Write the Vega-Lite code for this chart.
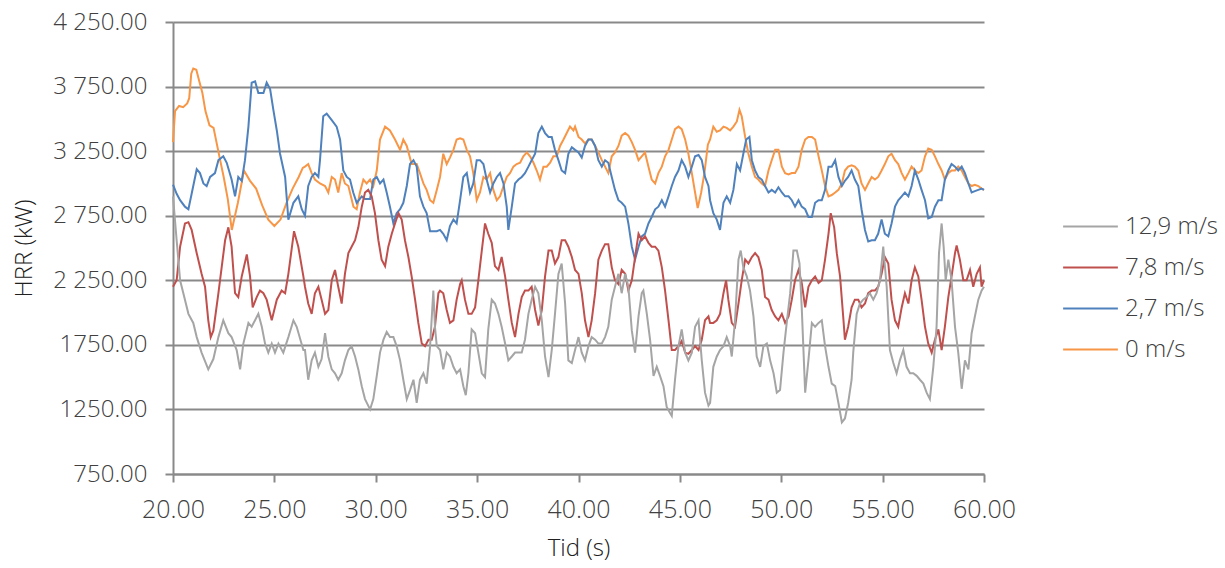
{
"$schema":"https://vega.github.io/schema/vega-lite/v6.json",
"width":811,"height":452,
"autosize":{"type":"none"},
"padding":{"left":173,"top":22,"right":241,"bottom":94},
"background":"white",
"config":{"view":{"stroke":null},"font":"Open Sans"},
"data":{"values":[
{"s":"o","t":20.0,"v":3320},{"s":"o","t":20.1,"v":3560},{"s":"o","t":20.3,"v":3600},{"s":"o","t":20.5,"v":3590},{"s":"o","t":20.7,"v":3620},{"s":"o","t":20.8,"v":3660},{"s":"o","t":20.9,"v":3850},{"s":"o","t":21.0,"v":3890},{"s":"o","t":21.15,"v":3880},{"s":"o","t":21.3,"v":3790},{"s":"o","t":21.45,"v":3700},{"s":"o","t":21.6,"v":3560},{"s":"o","t":21.8,"v":3450},{"s":"o","t":22.0,"v":3430},{"s":"o","t":22.3,"v":3200},{"s":"o","t":22.5,"v":3050},{"s":"o","t":22.7,"v":2880},{"s":"o","t":22.9,"v":2640},{"s":"o","t":23.2,"v":2850},{"s":"o","t":23.5,"v":3100},{"s":"o","t":23.8,"v":3020},{"s":"o","t":24.1,"v":2960},{"s":"o","t":24.4,"v":2830},{"s":"o","t":24.7,"v":2720},{"s":"o","t":25.0,"v":2670},{"s":"o","t":25.3,"v":2720},{"s":"o","t":25.6,"v":2850},{"s":"o","t":25.9,"v":2960},{"s":"o","t":26.2,"v":3050},{"s":"o","t":26.4,"v":3120},
{"s":"o","t":26.51,"v":3130},{"s":"o","t":26.67,"v":3150},{"s":"o","t":26.84,"v":3080},{"s":"o","t":27.0,"v":3030},{"s":"o","t":27.25,"v":3000},{"s":"o","t":27.5,"v":2980},{"s":"o","t":27.66,"v":2930},{"s":"o","t":27.83,"v":3050},{"s":"o","t":27.99,"v":3030},{"s":"o","t":28.15,"v":2930},{"s":"o","t":28.32,"v":3080},{"s":"o","t":28.48,"v":3000},{"s":"o","t":28.65,"v":2980},{"s":"o","t":28.9,"v":2820},{"s":"o","t":29.06,"v":2800},{"s":"o","t":29.22,"v":2930},{"s":"o","t":29.39,"v":3030},{"s":"o","t":29.55,"v":3000},{"s":"o","t":29.72,"v":3030},{"s":"o","t":29.88,"v":2980},{"s":"o","t":30.05,"v":3100},{"s":"o","t":30.21,"v":3340},{"s":"o","t":30.46,"v":3440},{"s":"o","t":30.7,"v":3410},{"s":"o","t":30.95,"v":3340},{"s":"o","t":31.2,"v":3260},{"s":"o","t":31.36,"v":3340},{"s":"o","t":31.53,"v":3290},{"s":"o","t":31.77,"v":3150},{"s":"o","t":32.02,"v":3150},{"s":"o","t":32.18,"v":3080},{"s":"o","t":32.35,"v":3000},{"s":"o","t":32.51,"v":2950},{"s":"o","t":32.68,"v":2870},{"s":"o","t":32.84,"v":2850},{"s":"o","t":33.01,"v":2950},
{"s":"o","t":33.17,"v":3050},{"s":"o","t":33.33,"v":3230},{"s":"o","t":33.5,"v":3150},{"s":"o","t":33.66,"v":3200},{"s":"o","t":33.83,"v":3260},{"s":"o","t":33.99,"v":3340},{"s":"o","t":34.16,"v":3350},{"s":"o","t":34.32,"v":3340},{"s":"o","t":34.49,"v":3260},{"s":"o","t":34.65,"v":3210},{"s":"o","t":34.81,"v":3080},{"s":"o","t":34.98,"v":2870},{"s":"o","t":35.14,"v":2930},{"s":"o","t":35.31,"v":3050},{"s":"o","t":35.47,"v":3030},{"s":"o","t":35.64,"v":3080},{"s":"o","t":35.8,"v":2950},{"s":"o","t":35.97,"v":2870},{"s":"o","t":36.13,"v":2900},{"s":"o","t":36.3,"v":2980},{"s":"o","t":36.46,"v":3050},{"s":"o","t":36.62,"v":3080},{"s":"o","t":36.79,"v":3130},{"s":"o","t":36.95,"v":3150},{"s":"o","t":37.12,"v":3160},{"s":"o","t":37.28,"v":3210},{"s":"o","t":37.45,"v":3240},{"s":"o","t":37.61,"v":3210},{"s":"o","t":37.78,"v":3160},{"s":"o","t":37.94,"v":3100},{"s":"o","t":38.1,"v":3030},{"s":"o","t":38.27,"v":3130},{"s":"o","t":38.43,"v":3130},{"s":"o","t":38.6,"v":3160},{"s":"o","t":38.76,"v":3210},{"s":"o","t":38.93,"v":3210},{"s":"o","t":39.09,"v":3290},{"s":"o","t":39.26,"v":3340},{"s":"o","t":39.42,"v":3390},{"s":"o","t":39.58,"v":3440},{"s":"o","t":39.75,"v":3410},
{"s":"o","t":39.83,"v":3440},{"s":"o","t":40.0,"v":3360},{"s":"o","t":40.16,"v":3340},{"s":"o","t":40.32,"v":3310},{"s":"o","t":40.49,"v":3340},{"s":"o","t":40.65,"v":3340},{"s":"o","t":40.82,"v":3290},{"s":"o","t":40.98,"v":3240},{"s":"o","t":41.15,"v":3180},{"s":"o","t":41.31,"v":3130},{"s":"o","t":41.47,"v":3080},{"s":"o","t":41.64,"v":3210},{"s":"o","t":41.8,"v":3240},{"s":"o","t":41.97,"v":3290},{"s":"o","t":42.13,"v":3370},{"s":"o","t":42.3,"v":3390},{"s":"o","t":42.46,"v":3370},{"s":"o","t":42.63,"v":3320},{"s":"o","t":42.79,"v":3260},{"s":"o","t":42.96,"v":3180},{"s":"o","t":43.12,"v":3210},{"s":"o","t":43.28,"v":3240},{"s":"o","t":43.45,"v":3130},{"s":"o","t":43.61,"v":3030},{"s":"o","t":43.78,"v":3000},{"s":"o","t":43.94,"v":3080},{"s":"o","t":44.11,"v":3130},{"s":"o","t":44.27,"v":3210},{"s":"o","t":44.44,"v":3260},{"s":"o","t":44.6,"v":3340},{"s":"o","t":44.76,"v":3420},{"s":"o","t":44.93,"v":3440},{"s":"o","t":45.09,"v":3420},{"s":"o","t":45.26,"v":3340},{"s":"o","t":45.42,"v":3230},{"s":"o","t":45.59,"v":3080},{"s":"o","t":45.75,"v":2930},{"s":"o","t":45.88,"v":2810},{"s":"o","t":46.05,"v":2930},{"s":"o","t":46.21,"v":3080},{"s":"o","t":46.38,"v":3300},
{"s":"o","t":46.49,"v":3340},{"s":"o","t":46.65,"v":3440},{"s":"o","t":46.82,"v":3400},{"s":"o","t":46.98,"v":3410},{"s":"o","t":47.15,"v":3440},{"s":"o","t":47.31,"v":3430},{"s":"o","t":47.48,"v":3410},{"s":"o","t":47.64,"v":3440},{"s":"o","t":47.81,"v":3480},{"s":"o","t":47.94,"v":3570},{"s":"o","t":48.05,"v":3520},{"s":"o","t":48.22,"v":3360},{"s":"o","t":48.38,"v":3230},{"s":"o","t":48.55,"v":3130},{"s":"o","t":48.71,"v":3050},{"s":"o","t":48.87,"v":3030},{"s":"o","t":49.04,"v":3000},{"s":"o","t":49.2,"v":2980},{"s":"o","t":49.37,"v":3100},{"s":"o","t":49.53,"v":3180},{"s":"o","t":49.7,"v":3260},{"s":"o","t":49.86,"v":3260},{"s":"o","t":50.03,"v":3130},{"s":"o","t":50.19,"v":3080},{"s":"o","t":50.36,"v":3070},{"s":"o","t":50.52,"v":3080},{"s":"o","t":50.68,"v":3080},{"s":"o","t":50.85,"v":3130},{"s":"o","t":51.01,"v":3260},{"s":"o","t":51.18,"v":3340},{"s":"o","t":51.34,"v":3360},{"s":"o","t":51.51,"v":3360},{"s":"o","t":51.67,"v":3340},{"s":"o","t":51.84,"v":3210},{"s":"o","t":52.0,"v":3100},{"s":"o","t":52.16,"v":2980},{"s":"o","t":52.33,"v":2900},{"s":"o","t":52.49,"v":2910},{"s":"o","t":52.66,"v":2930},{"s":"o","t":52.82,"v":2950},{"s":"o","t":52.99,"v":3000},
{"s":"o","t":53.14,"v":3100},{"s":"o","t":53.3,"v":3130},{"s":"o","t":53.47,"v":3140},{"s":"o","t":53.63,"v":3130},{"s":"o","t":53.8,"v":3100},{"s":"o","t":53.96,"v":3000},{"s":"o","t":54.13,"v":2950},{"s":"o","t":54.29,"v":3000},{"s":"o","t":54.46,"v":3050},{"s":"o","t":54.62,"v":3030},{"s":"o","t":54.78,"v":3050},{"s":"o","t":54.95,"v":3100},{"s":"o","t":55.11,"v":3150},{"s":"o","t":55.28,"v":3210},{"s":"o","t":55.44,"v":3230},{"s":"o","t":55.61,"v":3180},{"s":"o","t":55.77,"v":3150},{"s":"o","t":55.94,"v":3080},{"s":"o","t":56.1,"v":3030},{"s":"o","t":56.27,"v":3080},{"s":"o","t":56.43,"v":3130},{"s":"o","t":56.59,"v":3100},{"s":"o","t":56.76,"v":3080},{"s":"o","t":56.92,"v":3100},{"s":"o","t":57.09,"v":3210},{"s":"o","t":57.25,"v":3270},{"s":"o","t":57.42,"v":3260},{"s":"o","t":57.58,"v":3210},{"s":"o","t":57.75,"v":3150},{"s":"o","t":57.91,"v":3100},{"s":"o","t":58.07,"v":3030},{"s":"o","t":58.24,"v":3080},{"s":"o","t":58.4,"v":3100},{"s":"o","t":58.57,"v":3100},{"s":"o","t":58.73,"v":3130},{"s":"o","t":58.9,"v":3100},{"s":"o","t":59.06,"v":3050},{"s":"o","t":59.23,"v":3000},{"s":"o","t":59.39,"v":2980},{"s":"o","t":59.55,"v":2990},{"s":"o","t":59.72,"v":2980},{"s":"o","t":59.88,"v":2960},{"s":"o","t":60.0,"v":2950},

{"s":"b","t":20.0,"v":2990},{"s":"b","t":20.18,"v":2920},{"s":"b","t":20.35,"v":2870},{"s":"b","t":20.59,"v":2820},{"s":"b","t":20.76,"v":2800},{"s":"b","t":20.92,"v":2920},{"s":"b","t":21.17,"v":3110},{"s":"b","t":21.33,"v":3080},{"s":"b","t":21.5,"v":3000},{"s":"b","t":21.66,"v":2980},{"s":"b","t":21.83,"v":3050},{"s":"b","t":22.07,"v":3080},{"s":"b","t":22.24,"v":3180},{"s":"b","t":22.48,"v":3210},{"s":"b","t":22.65,"v":3160},{"s":"b","t":22.89,"v":3030},{"s":"b","t":23.06,"v":2900},{"s":"b","t":23.22,"v":3050},{"s":"b","t":23.39,"v":3020},{"s":"b","t":23.55,"v":3180},{"s":"b","t":23.72,"v":3440},{"s":"b","t":23.88,"v":3780},{"s":"b","t":24.05,"v":3790},{"s":"b","t":24.21,"v":3700},{"s":"b","t":24.46,"v":3700},{"s":"b","t":24.62,"v":3780},{"s":"b","t":24.79,"v":3730},{"s":"b","t":24.95,"v":3570},{"s":"b","t":25.12,"v":3410},{"s":"b","t":25.28,"v":3230},{"s":"b","t":25.53,"v":3050},{"s":"b","t":25.69,"v":2720},{"s":"b","t":25.94,"v":2850},{"s":"b","t":26.18,"v":2900},{"s":"b","t":26.35,"v":2800},
{"s":"b","t":26.51,"v":2750},{"s":"b","t":26.67,"v":2980},{"s":"b","t":26.84,"v":3050},{"s":"b","t":27.0,"v":3080},{"s":"b","t":27.17,"v":3050},{"s":"b","t":27.25,"v":3180},{"s":"b","t":27.41,"v":3520},{"s":"b","t":27.58,"v":3540},{"s":"b","t":27.83,"v":3490},{"s":"b","t":28.07,"v":3440},{"s":"b","t":28.24,"v":3340},{"s":"b","t":28.4,"v":3100},{"s":"b","t":28.57,"v":3050},{"s":"b","t":28.73,"v":3030},{"s":"b","t":28.89,"v":2930},{"s":"b","t":29.06,"v":2850},{"s":"b","t":29.31,"v":2900},{"s":"b","t":29.47,"v":2880},{"s":"b","t":29.72,"v":2880},{"s":"b","t":29.88,"v":3030},{"s":"b","t":30.05,"v":3050},{"s":"b","t":30.21,"v":3000},{"s":"b","t":30.38,"v":3030},{"s":"b","t":30.54,"v":2930},{"s":"b","t":30.7,"v":2820},{"s":"b","t":30.87,"v":2690},{"s":"b","t":31.03,"v":2770},{"s":"b","t":31.2,"v":2800},{"s":"b","t":31.36,"v":2850},{"s":"b","t":31.53,"v":2980},{"s":"b","t":31.69,"v":3150},{"s":"b","t":31.86,"v":3180},{"s":"b","t":32.02,"v":3130},{"s":"b","t":32.18,"v":2900},{"s":"b","t":32.35,"v":2820},{"s":"b","t":32.51,"v":2770},{"s":"b","t":32.68,"v":2630},{"s":"b","t":33.01,"v":2630},
{"s":"b","t":33.17,"v":2640},{"s":"b","t":33.33,"v":2610},{"s":"b","t":33.5,"v":2560},{"s":"b","t":33.66,"v":2670},{"s":"b","t":33.83,"v":2720},{"s":"b","t":33.99,"v":2690},{"s":"b","t":34.16,"v":2870},{"s":"b","t":34.32,"v":3050},{"s":"b","t":34.49,"v":3080},{"s":"b","t":34.65,"v":2930},{"s":"b","t":34.81,"v":3000},{"s":"b","t":34.98,"v":3180},{"s":"b","t":35.14,"v":3180},{"s":"b","t":35.31,"v":3150},{"s":"b","t":35.47,"v":3030},{"s":"b","t":35.64,"v":2930},{"s":"b","t":35.8,"v":3000},{"s":"b","t":35.97,"v":3050},{"s":"b","t":36.13,"v":3080},{"s":"b","t":36.3,"v":3000},{"s":"b","t":36.46,"v":2820},{"s":"b","t":36.54,"v":2640},{"s":"b","t":36.71,"v":2820},{"s":"b","t":36.87,"v":3000},{"s":"b","t":37.04,"v":3030},{"s":"b","t":37.2,"v":3050},{"s":"b","t":37.36,"v":3080},{"s":"b","t":37.53,"v":3130},{"s":"b","t":37.69,"v":3180},{"s":"b","t":37.86,"v":3230},{"s":"b","t":38.02,"v":3390},{"s":"b","t":38.19,"v":3440},{"s":"b","t":38.35,"v":3390},{"s":"b","t":38.52,"v":3360},{"s":"b","t":38.68,"v":3360},{"s":"b","t":38.84,"v":3260},{"s":"b","t":39.01,"v":3180},{"s":"b","t":39.17,"v":3100},{"s":"b","t":39.34,"v":3080},{"s":"b","t":39.5,"v":3230},{"s":"b","t":39.67,"v":3280},
{"s":"b","t":39.83,"v":3260},{"s":"b","t":40.0,"v":3240},{"s":"b","t":40.16,"v":3200},{"s":"b","t":40.32,"v":3290},{"s":"b","t":40.49,"v":3340},{"s":"b","t":40.65,"v":3340},{"s":"b","t":40.82,"v":3290},{"s":"b","t":40.98,"v":3180},{"s":"b","t":41.15,"v":3130},{"s":"b","t":41.31,"v":3180},{"s":"b","t":41.47,"v":3160},{"s":"b","t":41.64,"v":3050},{"s":"b","t":41.8,"v":2950},{"s":"b","t":41.97,"v":2870},{"s":"b","t":42.13,"v":2850},{"s":"b","t":42.3,"v":2820},{"s":"b","t":42.46,"v":2690},{"s":"b","t":42.63,"v":2510},{"s":"b","t":42.79,"v":2410},{"s":"b","t":42.96,"v":2510},{"s":"b","t":43.12,"v":2590},{"s":"b","t":43.28,"v":2610},{"s":"b","t":43.45,"v":2690},{"s":"b","t":43.61,"v":2740},{"s":"b","t":43.78,"v":2800},{"s":"b","t":43.94,"v":2820},{"s":"b","t":44.11,"v":2870},{"s":"b","t":44.27,"v":2820},{"s":"b","t":44.44,"v":2900},{"s":"b","t":44.6,"v":2980},{"s":"b","t":44.76,"v":3050},{"s":"b","t":44.93,"v":3100},{"s":"b","t":45.09,"v":3180},{"s":"b","t":45.26,"v":3130},{"s":"b","t":45.42,"v":3050},{"s":"b","t":45.59,"v":3130},{"s":"b","t":45.75,"v":3210},{"s":"b","t":45.92,"v":3220},{"s":"b","t":46.08,"v":3180},{"s":"b","t":46.24,"v":3050},{"s":"b","t":46.41,"v":2980},
{"s":"b","t":46.49,"v":2870},{"s":"b","t":46.65,"v":2770},{"s":"b","t":46.82,"v":2720},{"s":"b","t":46.98,"v":2640},{"s":"b","t":47.15,"v":2850},{"s":"b","t":47.31,"v":2900},{"s":"b","t":47.48,"v":2850},{"s":"b","t":47.64,"v":2950},{"s":"b","t":47.81,"v":3150},{"s":"b","t":47.97,"v":3100},{"s":"b","t":48.13,"v":3230},{"s":"b","t":48.27,"v":3340},{"s":"b","t":48.43,"v":3360},{"s":"b","t":48.55,"v":3180},{"s":"b","t":48.71,"v":3100},{"s":"b","t":48.87,"v":3050},{"s":"b","t":49.04,"v":3030},{"s":"b","t":49.2,"v":2980},{"s":"b","t":49.37,"v":2930},{"s":"b","t":49.53,"v":2950},{"s":"b","t":49.7,"v":2930},{"s":"b","t":49.86,"v":2970},{"s":"b","t":50.03,"v":2930},{"s":"b","t":50.19,"v":2900},{"s":"b","t":50.36,"v":2900},{"s":"b","t":50.52,"v":2870},{"s":"b","t":50.68,"v":2820},{"s":"b","t":50.85,"v":2870},{"s":"b","t":51.01,"v":2820},{"s":"b","t":51.18,"v":2800},{"s":"b","t":51.34,"v":2740},{"s":"b","t":51.51,"v":2740},{"s":"b","t":51.67,"v":2850},{"s":"b","t":51.84,"v":2870},{"s":"b","t":52.0,"v":2870},{"s":"b","t":52.16,"v":2950},{"s":"b","t":52.33,"v":3130},{"s":"b","t":52.49,"v":3130},{"s":"b","t":52.66,"v":3180},{"s":"b","t":52.82,"v":3050},{"s":"b","t":52.99,"v":2980},
{"s":"b","t":53.14,"v":3020},{"s":"b","t":53.3,"v":3050},{"s":"b","t":53.47,"v":3100},{"s":"b","t":53.63,"v":3030},{"s":"b","t":53.8,"v":2980},{"s":"b","t":53.96,"v":2800},{"s":"b","t":54.13,"v":2640},{"s":"b","t":54.29,"v":2550},{"s":"b","t":54.46,"v":2560},{"s":"b","t":54.62,"v":2560},{"s":"b","t":54.78,"v":2610},{"s":"b","t":54.95,"v":2720},{"s":"b","t":55.11,"v":2610},{"s":"b","t":55.28,"v":2590},{"s":"b","t":55.44,"v":2690},{"s":"b","t":55.61,"v":2820},{"s":"b","t":55.77,"v":2870},{"s":"b","t":55.94,"v":2900},{"s":"b","t":56.1,"v":2930},{"s":"b","t":56.27,"v":2900},{"s":"b","t":56.43,"v":2980},{"s":"b","t":56.59,"v":3100},{"s":"b","t":56.76,"v":3030},{"s":"b","t":56.92,"v":2950},{"s":"b","t":57.09,"v":2870},{"s":"b","t":57.25,"v":2730},{"s":"b","t":57.42,"v":2740},{"s":"b","t":57.58,"v":2820},{"s":"b","t":57.75,"v":2870},{"s":"b","t":57.91,"v":2870},{"s":"b","t":58.07,"v":3030},{"s":"b","t":58.24,"v":3100},{"s":"b","t":58.4,"v":3150},{"s":"b","t":58.57,"v":3130},{"s":"b","t":58.73,"v":3100},{"s":"b","t":58.9,"v":3130},{"s":"b","t":59.06,"v":3080},{"s":"b","t":59.23,"v":3000},{"s":"b","t":59.39,"v":2930},{"s":"b","t":59.55,"v":2940},{"s":"b","t":59.72,"v":2950},{"s":"b","t":59.88,"v":2960},{"s":"b","t":60.0,"v":2950},

{"s":"r","t":20.0,"v":2200},{"s":"r","t":20.18,"v":2250},{"s":"r","t":20.35,"v":2510},{"s":"r","t":20.59,"v":2690},{"s":"r","t":20.76,"v":2700},{"s":"r","t":20.92,"v":2640},{"s":"r","t":21.17,"v":2460},{"s":"r","t":21.41,"v":2300},{"s":"r","t":21.58,"v":2200},{"s":"r","t":21.74,"v":1940},{"s":"r","t":21.86,"v":1810},{"s":"r","t":21.99,"v":1860},{"s":"r","t":22.24,"v":2150},{"s":"r","t":22.4,"v":2350},{"s":"r","t":22.57,"v":2560},{"s":"r","t":22.73,"v":2660},{"s":"r","t":22.89,"v":2510},{"s":"r","t":23.06,"v":2150},{"s":"r","t":23.22,"v":2120},{"s":"r","t":23.39,"v":2280},{"s":"r","t":23.64,"v":2450},{"s":"r","t":23.8,"v":2280},{"s":"r","t":23.93,"v":2040},{"s":"r","t":24.13,"v":2120},{"s":"r","t":24.29,"v":2170},{"s":"r","t":24.46,"v":2150},{"s":"r","t":24.62,"v":2100},{"s":"r","t":24.87,"v":1940},{"s":"r","t":25.12,"v":2100},{"s":"r","t":25.36,"v":2170},{"s":"r","t":25.53,"v":2150},{"s":"r","t":25.69,"v":2300},{"s":"r","t":25.97,"v":2630},{"s":"r","t":26.18,"v":2510},{"s":"r","t":26.43,"v":2280},
{"s":"r","t":26.51,"v":2200},{"s":"r","t":26.67,"v":2070},{"s":"r","t":26.84,"v":1990},{"s":"r","t":27.0,"v":2150},{"s":"r","t":27.17,"v":2200},{"s":"r","t":27.33,"v":2100},{"s":"r","t":27.5,"v":1990},{"s":"r","t":27.66,"v":2020},{"s":"r","t":27.83,"v":2250},{"s":"r","t":27.99,"v":2330},{"s":"r","t":28.15,"v":2200},{"s":"r","t":28.32,"v":2070},{"s":"r","t":28.48,"v":2300},{"s":"r","t":28.65,"v":2460},{"s":"r","t":28.81,"v":2510},{"s":"r","t":28.98,"v":2560},{"s":"r","t":29.14,"v":2660},{"s":"r","t":29.31,"v":2820},{"s":"r","t":29.47,"v":2930},{"s":"r","t":29.63,"v":2950},{"s":"r","t":29.8,"v":2900},{"s":"r","t":29.96,"v":2770},{"s":"r","t":30.13,"v":2560},{"s":"r","t":30.29,"v":2410},{"s":"r","t":30.46,"v":2360},{"s":"r","t":30.62,"v":2510},{"s":"r","t":30.79,"v":2610},{"s":"r","t":30.95,"v":2690},{"s":"r","t":31.12,"v":2770},{"s":"r","t":31.28,"v":2720},{"s":"r","t":31.44,"v":2560},{"s":"r","t":31.61,"v":2430},{"s":"r","t":31.77,"v":2280},{"s":"r","t":31.94,"v":2100},{"s":"r","t":32.1,"v":1920},{"s":"r","t":32.27,"v":1760},{"s":"r","t":32.43,"v":1740},{"s":"r","t":32.6,"v":1790},{"s":"r","t":32.76,"v":1790},{"s":"r","t":32.92,"v":1890},{"s":"r","t":33.09,"v":2150},
{"s":"r","t":33.17,"v":2170},{"s":"r","t":33.33,"v":2150},{"s":"r","t":33.5,"v":2020},{"s":"r","t":33.66,"v":1920},{"s":"r","t":33.83,"v":1940},{"s":"r","t":33.99,"v":2100},{"s":"r","t":34.16,"v":2220},{"s":"r","t":34.24,"v":2250},{"s":"r","t":34.4,"v":2100},{"s":"r","t":34.57,"v":1990},{"s":"r","t":34.73,"v":1990},{"s":"r","t":34.9,"v":2040},{"s":"r","t":35.06,"v":2250},{"s":"r","t":35.23,"v":2480},{"s":"r","t":35.39,"v":2690},{"s":"r","t":35.55,"v":2610},{"s":"r","t":35.72,"v":2540},{"s":"r","t":35.88,"v":2360},{"s":"r","t":36.05,"v":2330},{"s":"r","t":36.21,"v":2430},{"s":"r","t":36.38,"v":2280},{"s":"r","t":36.54,"v":2100},{"s":"r","t":36.71,"v":1920},{"s":"r","t":36.87,"v":1810},{"s":"r","t":37.04,"v":1990},{"s":"r","t":37.2,"v":2120},{"s":"r","t":37.36,"v":2170},{"s":"r","t":37.53,"v":2170},{"s":"r","t":37.69,"v":2200},{"s":"r","t":37.86,"v":2020},{"s":"r","t":38.02,"v":1900},{"s":"r","t":38.19,"v":2020},{"s":"r","t":38.35,"v":2280},{"s":"r","t":38.52,"v":2480},{"s":"r","t":38.68,"v":2480},{"s":"r","t":38.84,"v":2380},{"s":"r","t":39.01,"v":2430},{"s":"r","t":39.17,"v":2560},{"s":"r","t":39.34,"v":2560},{"s":"r","t":39.5,"v":2510},{"s":"r","t":39.67,"v":2430},
{"s":"r","t":39.83,"v":2330},{"s":"r","t":40.0,"v":2300},{"s":"r","t":40.16,"v":2150},{"s":"r","t":40.32,"v":1940},{"s":"r","t":40.49,"v":1810},{"s":"r","t":40.65,"v":1940},{"s":"r","t":40.82,"v":2150},{"s":"r","t":40.98,"v":2410},{"s":"r","t":41.15,"v":2480},{"s":"r","t":41.31,"v":2530},{"s":"r","t":41.47,"v":2530},{"s":"r","t":41.64,"v":2350},{"s":"r","t":41.8,"v":2250},{"s":"r","t":41.97,"v":2220},{"s":"r","t":42.13,"v":2330},{"s":"r","t":42.3,"v":2300},{"s":"r","t":42.46,"v":2170},{"s":"r","t":42.63,"v":2250},{"s":"r","t":42.79,"v":2430},{"s":"r","t":42.96,"v":2610},{"s":"r","t":43.12,"v":2560},{"s":"r","t":43.28,"v":2590},{"s":"r","t":43.45,"v":2540},{"s":"r","t":43.61,"v":2510},{"s":"r","t":43.78,"v":2510},{"s":"r","t":43.94,"v":2480},{"s":"r","t":44.11,"v":2350},{"s":"r","t":44.27,"v":2170},{"s":"r","t":44.44,"v":1940},{"s":"r","t":44.6,"v":1710},{"s":"r","t":44.76,"v":1710},{"s":"r","t":44.93,"v":1740},{"s":"r","t":45.09,"v":1780},{"s":"r","t":45.26,"v":1690},{"s":"r","t":45.42,"v":1680},{"s":"r","t":45.59,"v":1710},{"s":"r","t":45.75,"v":1740},{"s":"r","t":45.92,"v":1710},{"s":"r","t":46.08,"v":1790},{"s":"r","t":46.24,"v":1940},{"s":"r","t":46.41,"v":1970},
{"s":"r","t":46.49,"v":1920},{"s":"r","t":46.65,"v":1920},{"s":"r","t":46.82,"v":1940},{"s":"r","t":46.98,"v":1990},{"s":"r","t":47.15,"v":2150},{"s":"r","t":47.28,"v":2250},{"s":"r","t":47.39,"v":2100},{"s":"r","t":47.56,"v":1920},{"s":"r","t":47.72,"v":1890},{"s":"r","t":47.89,"v":2070},{"s":"r","t":48.05,"v":2250},{"s":"r","t":48.22,"v":2410},{"s":"r","t":48.38,"v":2380},{"s":"r","t":48.55,"v":2430},{"s":"r","t":48.71,"v":2460},{"s":"r","t":48.87,"v":2430},{"s":"r","t":49.04,"v":2330},{"s":"r","t":49.2,"v":2120},{"s":"r","t":49.37,"v":2100},{"s":"r","t":49.53,"v":2020},{"s":"r","t":49.7,"v":1970},{"s":"r","t":49.86,"v":1940},{"s":"r","t":50.03,"v":1990},{"s":"r","t":50.19,"v":1920},{"s":"r","t":50.36,"v":1970},{"s":"r","t":50.52,"v":2100},{"s":"r","t":50.68,"v":2250},{"s":"r","t":50.85,"v":2330},{"s":"r","t":51.01,"v":2230},{"s":"r","t":51.18,"v":2040},{"s":"r","t":51.34,"v":2200},{"s":"r","t":51.51,"v":2250},{"s":"r","t":51.67,"v":2280},{"s":"r","t":51.84,"v":2230},{"s":"r","t":52.0,"v":2250},{"s":"r","t":52.16,"v":2410},{"s":"r","t":52.33,"v":2610},{"s":"r","t":52.44,"v":2770},{"s":"r","t":52.61,"v":2660},{"s":"r","t":52.74,"v":2460},{"s":"r","t":52.9,"v":2280},{"s":"r","t":53.07,"v":1940},
{"s":"r","t":53.14,"v":1790},{"s":"r","t":53.3,"v":1890},{"s":"r","t":53.47,"v":2040},{"s":"r","t":53.63,"v":2100},{"s":"r","t":53.8,"v":2100},{"s":"r","t":53.96,"v":2040},{"s":"r","t":54.13,"v":2070},{"s":"r","t":54.29,"v":2150},{"s":"r","t":54.46,"v":2170},{"s":"r","t":54.62,"v":2170},{"s":"r","t":54.78,"v":2200},{"s":"r","t":54.95,"v":2300},{"s":"r","t":55.11,"v":2430},{"s":"r","t":55.28,"v":2380},{"s":"r","t":55.44,"v":2100},{"s":"r","t":55.61,"v":1940},{"s":"r","t":55.77,"v":1890},{"s":"r","t":55.94,"v":2040},{"s":"r","t":56.1,"v":2150},{"s":"r","t":56.27,"v":2070},{"s":"r","t":56.43,"v":2250},{"s":"r","t":56.59,"v":2350},{"s":"r","t":56.76,"v":2280},{"s":"r","t":56.92,"v":2100},{"s":"r","t":57.09,"v":1890},{"s":"r","t":57.25,"v":1760},{"s":"r","t":57.42,"v":1690},{"s":"r","t":57.58,"v":1790},{"s":"r","t":57.75,"v":1870},{"s":"r","t":57.91,"v":1710},{"s":"r","t":58.07,"v":1890},{"s":"r","t":58.24,"v":2120},{"s":"r","t":58.4,"v":2280},{"s":"r","t":58.57,"v":2460},{"s":"r","t":58.65,"v":2520},{"s":"r","t":58.81,"v":2410},{"s":"r","t":58.98,"v":2250},{"s":"r","t":59.14,"v":2250},{"s":"r","t":59.31,"v":2330},{"s":"r","t":59.47,"v":2200},{"s":"r","t":59.64,"v":2300},{"s":"r","t":59.8,"v":2350},{"s":"r","t":59.88,"v":2200},{"s":"r","t":60.0,"v":2250},

{"s":"g","t":20.0,"v":2900},{"s":"g","t":20.18,"v":2560},{"s":"g","t":20.35,"v":2250},{"s":"g","t":20.51,"v":2150},{"s":"g","t":20.76,"v":1990},{"s":"g","t":21.0,"v":1920},{"s":"g","t":21.17,"v":1810},{"s":"g","t":21.41,"v":1690},{"s":"g","t":21.74,"v":1560},{"s":"g","t":21.99,"v":1640},{"s":"g","t":22.24,"v":1810},{"s":"g","t":22.48,"v":1940},{"s":"g","t":22.73,"v":1840},{"s":"g","t":22.89,"v":1810},{"s":"g","t":23.14,"v":1710},{"s":"g","t":23.31,"v":1560},{"s":"g","t":23.47,"v":1760},{"s":"g","t":23.72,"v":1920},{"s":"g","t":23.88,"v":1890},{"s":"g","t":24.21,"v":1990},{"s":"g","t":24.38,"v":1890},{"s":"g","t":24.54,"v":1760},{"s":"g","t":24.7,"v":1690},{"s":"g","t":24.87,"v":1760},{"s":"g","t":25.03,"v":1690},{"s":"g","t":25.2,"v":1760},{"s":"g","t":25.44,"v":1690},{"s":"g","t":25.69,"v":1810},{"s":"g","t":25.94,"v":1940},{"s":"g","t":26.1,"v":1890},{"s":"g","t":26.43,"v":1710},
{"s":"g","t":26.51,"v":1710},{"s":"g","t":26.67,"v":1480},{"s":"g","t":26.84,"v":1630},{"s":"g","t":27.0,"v":1690},{"s":"g","t":27.17,"v":1580},{"s":"g","t":27.33,"v":1640},{"s":"g","t":27.5,"v":1840},{"s":"g","t":27.66,"v":1660},{"s":"g","t":27.83,"v":1560},{"s":"g","t":27.99,"v":1530},{"s":"g","t":28.15,"v":1480},{"s":"g","t":28.32,"v":1530},{"s":"g","t":28.48,"v":1630},{"s":"g","t":28.65,"v":1710},{"s":"g","t":28.81,"v":1740},{"s":"g","t":28.98,"v":1660},{"s":"g","t":29.14,"v":1560},{"s":"g","t":29.31,"v":1430},{"s":"g","t":29.47,"v":1330},{"s":"g","t":29.72,"v":1250},{"s":"g","t":29.88,"v":1330},{"s":"g","t":30.05,"v":1510},{"s":"g","t":30.21,"v":1690},{"s":"g","t":30.38,"v":1790},{"s":"g","t":30.54,"v":1850},{"s":"g","t":30.7,"v":1810},{"s":"g","t":30.87,"v":1810},{"s":"g","t":31.03,"v":1740},{"s":"g","t":31.2,"v":1630},{"s":"g","t":31.36,"v":1480},{"s":"g","t":31.53,"v":1330},{"s":"g","t":31.69,"v":1400},{"s":"g","t":31.86,"v":1480},{"s":"g","t":32.02,"v":1300},{"s":"g","t":32.18,"v":1480},{"s":"g","t":32.35,"v":1530},{"s":"g","t":32.51,"v":1450},{"s":"g","t":32.68,"v":1740},{"s":"g","t":32.84,"v":2170},{"s":"g","t":32.92,"v":1890},{"s":"g","t":33.01,"v":1740},
{"s":"g","t":33.17,"v":1710},{"s":"g","t":33.33,"v":1560},{"s":"g","t":33.5,"v":1690},{"s":"g","t":33.66,"v":1660},{"s":"g","t":33.83,"v":1580},{"s":"g","t":33.99,"v":1530},{"s":"g","t":34.16,"v":1560},{"s":"g","t":34.32,"v":1430},{"s":"g","t":34.44,"v":1360},{"s":"g","t":34.57,"v":1530},{"s":"g","t":34.73,"v":1870},{"s":"g","t":34.9,"v":1840},{"s":"g","t":35.06,"v":1690},{"s":"g","t":35.23,"v":1530},{"s":"g","t":35.39,"v":1500},{"s":"g","t":35.55,"v":1870},{"s":"g","t":35.72,"v":2100},{"s":"g","t":35.88,"v":2070},{"s":"g","t":36.05,"v":1990},{"s":"g","t":36.21,"v":1890},{"s":"g","t":36.38,"v":1760},{"s":"g","t":36.54,"v":1630},{"s":"g","t":36.71,"v":1660},{"s":"g","t":36.87,"v":1690},{"s":"g","t":37.04,"v":1690},{"s":"g","t":37.2,"v":1690},{"s":"g","t":37.36,"v":1790},{"s":"g","t":37.53,"v":1990},{"s":"g","t":37.69,"v":2100},{"s":"g","t":37.86,"v":2200},{"s":"g","t":38.02,"v":2150},{"s":"g","t":38.19,"v":1940},{"s":"g","t":38.35,"v":1660},{"s":"g","t":38.52,"v":1500},{"s":"g","t":38.68,"v":1710},{"s":"g","t":38.84,"v":1990},{"s":"g","t":39.01,"v":2300},{"s":"g","t":39.17,"v":2380},{"s":"g","t":39.34,"v":2070},{"s":"g","t":39.5,"v":1630},{"s":"g","t":39.67,"v":1610},
{"s":"g","t":39.83,"v":1710},{"s":"g","t":40.0,"v":1810},{"s":"g","t":40.16,"v":1690},{"s":"g","t":40.32,"v":1630},{"s":"g","t":40.49,"v":1740},{"s":"g","t":40.65,"v":1810},{"s":"g","t":40.82,"v":1790},{"s":"g","t":40.98,"v":1760},{"s":"g","t":41.15,"v":1760},{"s":"g","t":41.31,"v":1810},{"s":"g","t":41.47,"v":1890},{"s":"g","t":41.64,"v":2100},{"s":"g","t":41.8,"v":2200},{"s":"g","t":41.97,"v":2300},{"s":"g","t":42.13,"v":2150},{"s":"g","t":42.3,"v":2300},{"s":"g","t":42.46,"v":2200},{"s":"g","t":42.63,"v":1860},{"s":"g","t":42.79,"v":1690},{"s":"g","t":42.96,"v":1970},{"s":"g","t":43.12,"v":2150},{"s":"g","t":43.2,"v":2170},{"s":"g","t":43.37,"v":1990},{"s":"g","t":43.53,"v":1790},{"s":"g","t":43.7,"v":1510},{"s":"g","t":43.86,"v":1580},{"s":"g","t":44.02,"v":1510},{"s":"g","t":44.19,"v":1430},{"s":"g","t":44.35,"v":1270},{"s":"g","t":44.52,"v":1220},{"s":"g","t":44.6,"v":1200},{"s":"g","t":44.76,"v":1480},{"s":"g","t":44.93,"v":1740},{"s":"g","t":45.09,"v":1870},{"s":"g","t":45.26,"v":1690},{"s":"g","t":45.42,"v":1630},{"s":"g","t":45.59,"v":1690},{"s":"g","t":45.75,"v":1890},{"s":"g","t":45.92,"v":1940},{"s":"g","t":46.08,"v":1630},{"s":"g","t":46.24,"v":1380},{"s":"g","t":46.41,"v":1280},
{"s":"g","t":46.49,"v":1300},{"s":"g","t":46.65,"v":1580},{"s":"g","t":46.82,"v":1660},{"s":"g","t":46.98,"v":1710},{"s":"g","t":47.15,"v":1740},{"s":"g","t":47.31,"v":1810},{"s":"g","t":47.48,"v":1740},{"s":"g","t":47.56,"v":1660},{"s":"g","t":47.72,"v":1940},{"s":"g","t":47.89,"v":2410},{"s":"g","t":48.0,"v":2480},{"s":"g","t":48.13,"v":2350},{"s":"g","t":48.3,"v":2280},{"s":"g","t":48.46,"v":2170},{"s":"g","t":48.63,"v":1970},{"s":"g","t":48.79,"v":1660},{"s":"g","t":48.96,"v":1580},{"s":"g","t":49.12,"v":1740},{"s":"g","t":49.29,"v":1760},{"s":"g","t":49.45,"v":1630},{"s":"g","t":49.62,"v":1530},{"s":"g","t":49.78,"v":1380},{"s":"g","t":49.94,"v":1400},{"s":"g","t":50.11,"v":1690},{"s":"g","t":50.27,"v":1920},{"s":"g","t":50.44,"v":2150},{"s":"g","t":50.6,"v":2480},{"s":"g","t":50.77,"v":2480},{"s":"g","t":50.9,"v":2380},{"s":"g","t":51.01,"v":2040},{"s":"g","t":51.18,"v":1380},{"s":"g","t":51.34,"v":1630},{"s":"g","t":51.51,"v":1920},{"s":"g","t":51.67,"v":1890},{"s":"g","t":51.84,"v":1920},{"s":"g","t":52.0,"v":1940},{"s":"g","t":52.16,"v":1740},{"s":"g","t":52.33,"v":1580},{"s":"g","t":52.49,"v":1450},{"s":"g","t":52.66,"v":1430},{"s":"g","t":52.82,"v":1300},{"s":"g","t":52.99,"v":1150},
{"s":"g","t":53.14,"v":1180},{"s":"g","t":53.3,"v":1300},{"s":"g","t":53.47,"v":1480},{"s":"g","t":53.55,"v":1690},{"s":"g","t":53.72,"v":1990},{"s":"g","t":53.88,"v":2070},{"s":"g","t":54.04,"v":2100},{"s":"g","t":54.21,"v":2120},{"s":"g","t":54.37,"v":2150},{"s":"g","t":54.54,"v":2100},{"s":"g","t":54.7,"v":2150},{"s":"g","t":54.87,"v":2250},{"s":"g","t":55.03,"v":2510},{"s":"g","t":55.2,"v":2200},{"s":"g","t":55.36,"v":1710},{"s":"g","t":55.53,"v":1610},{"s":"g","t":55.69,"v":1530},{"s":"g","t":55.85,"v":1630},{"s":"g","t":56.02,"v":1710},{"s":"g","t":56.18,"v":1580},{"s":"g","t":56.35,"v":1530},{"s":"g","t":56.51,"v":1530},{"s":"g","t":56.68,"v":1510},{"s":"g","t":56.84,"v":1480},{"s":"g","t":57.01,"v":1450},{"s":"g","t":57.17,"v":1380},{"s":"g","t":57.33,"v":1330},{"s":"g","t":57.5,"v":1580},{"s":"g","t":57.66,"v":1890},{"s":"g","t":57.78,"v":2460},{"s":"g","t":57.91,"v":2690},{"s":"g","t":58.01,"v":2510},{"s":"g","t":58.11,"v":2250},{"s":"g","t":58.24,"v":2410},{"s":"g","t":58.4,"v":2250},{"s":"g","t":58.57,"v":1890},{"s":"g","t":58.73,"v":1690},{"s":"g","t":58.9,"v":1410},{"s":"g","t":59.06,"v":1630},{"s":"g","t":59.23,"v":1560},{"s":"g","t":59.39,"v":1840},{"s":"g","t":59.55,"v":1970},{"s":"g","t":59.72,"v":2100},{"s":"g","t":59.88,"v":2170},{"s":"g","t":60.0,"v":2200}
]},
"mark":{"type":"line","strokeWidth":2,"interpolate":"linear"},
"encoding":{
"x":{"field":"t","type":"quantitative","title":"Tid (s)",
 "scale":{"domain":[20,60],"nice":false,"zero":false},
 "axis":{"values":[20,25,30,35,40,45,50,55,60],"format":".2f","grid":false,"labelFlush":false,"labelOverlap":false,"domainColor":"#898989","domainWidth":2,"tickColor":"#898989","tickWidth":2,"tickSize":8,"labelPadding":15,"labelFontSize":25,"labelFontWeight":300,"labelColor":"#404040","labelFont":"Open Sans","titleFont":"Open Sans","titleFontSize":24,"titleFontWeight":300,"titleColor":"#202020","titlePadding":14}},
"y":{"field":"v","type":"quantitative","title":"HRR (kW)",
 "scale":{"domain":[750,4250],"nice":false,"zero":false},
 "axis":{"values":[750,1250,1750,2250,2750,3250,3750,4250],"labelExpr":"datum.value >= 2000 ? replace(format(datum.value, ',.2f'), ',', ' ') : format(datum.value, '.2f')","labelOverlap":false,"grid":true,"gridColor":"#898989","gridWidth":2,"domainColor":"#898989","domainWidth":2,"tickColor":"#898989","tickWidth":2,"tickSize":8,"labelPadding":18,"labelFontSize":24,"labelFontWeight":300,"labelColor":"#404040","labelFont":"Open Sans","titleFont":"Open Sans","titleFontSize":24,"titleFontWeight":300,"titleColor":"#202020","titlePadding":16}},
"color":{"field":"s","type":"nominal",
 "scale":{"domain":["g","r","b","o"],"range":["#A5A5A5","#C0504D","#4F81BD","#F79646"]},
 "legend":{"title":null,"orient":"none","legendX":889,"legendY":176,"symbolType":"stroke","symbolSize":3000,"symbolStrokeWidth":2,"labelFontSize":24,"labelFontWeight":300,"labelFont":"Open Sans","labelColor":"#404040","labelOffset":6,"rowPadding":-10,"padding":0,
  "labelExpr":"({'g':'12,9 m/s','r':'7,8 m/s','b':'2,7 m/s','o':'0 m/s'})[datum.value]"}}
}
}
